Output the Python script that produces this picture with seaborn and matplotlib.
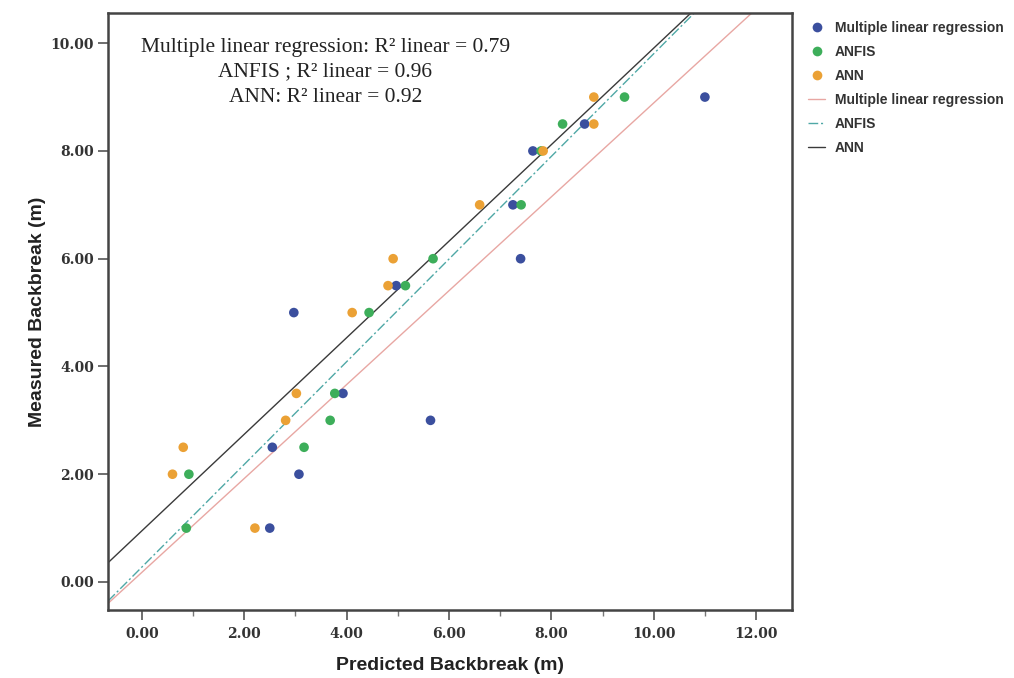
import numpy as np
import pandas as pd
import matplotlib
matplotlib.use("Agg")
import matplotlib.pyplot as plt
from matplotlib.lines import Line2D
from matplotlib.ticker import MultipleLocator, FormatStrFormatter
import seaborn as sns

# ---- data ----
measured = [9, 8.5, 8, 7, 6, 5.5, 5, 3.5, 3, 2.5, 2, 1]
mlr_pred = [11.0, 8.65, 7.64, 7.25, 7.40, 4.97, 2.97, 3.93, 5.64, 2.55, 3.07, 2.50]
anfis_pred = [9.43, 8.22, 7.80, 7.41, 5.69, 5.15, 4.44, 3.77, 3.68, 3.17, 0.92, 0.87]
ann_pred = [8.83, 8.83, 7.84, 6.60, 4.91, 4.81, 4.11, 3.02, 2.81, 0.81, 0.60, 2.21]
models = ["Multiple linear regression", "ANFIS", "ANN"]
r2_text = ["Multiple linear regression: R\u00b2 linear = 0.79",
           "ANFIS ; R\u00b2 linear = 0.96",
           "ANN: R\u00b2 linear = 0.92"]
x_ticks = [0, 2, 4, 6, 8, 10, 12]
y_ticks = [0, 2, 4, 6, 8, 10]

point_colors = {"Multiple linear regression": "#3B4F9E",
                "ANFIS": "#3DAE5A",
                "ANN": "#EBA135"}
line_styles = {"Multiple linear regression": dict(color="#E8A7A3", ls="-", lw=1.0),
               "ANFIS": dict(color="#4FA8A6", ls=(0, (7, 2, 1.5, 2)), lw=1.0),
               "ANN": dict(color="#3A3A3A", ls="-", lw=1.0)}

df = pd.DataFrame({
    "Predicted": mlr_pred + anfis_pred + ann_pred,
    "Measured": measured * 3,
    "Model": [models[0]] * len(mlr_pred) + [models[1]] * len(anfis_pred) + [models[2]] * len(ann_pred),
})

sns.set_style("white")
fig = plt.figure(figsize=(10.14, 6.78), dpi=100)
ax = fig.add_axes([0.1065, 0.1003, 0.6745, 0.8805])

xlim = (-0.66, 12.7)
ylim = (-0.52, 10.56)
ax.set_xlim(xlim)
ax.set_ylim(ylim)

# regression lines (fit through the library)
for m in models:
    sub = df[df["Model"] == m]
    st = line_styles[m]
    sns.regplot(data=sub, x="Predicted", y="Measured", ax=ax, scatter=False,
                ci=None, truncate=False,
                line_kws=dict(color=st["color"], linestyle=st["ls"], linewidth=st["lw"]))
    ax.set_xlim(xlim)
    ax.set_ylim(ylim)

sns.scatterplot(data=df, x="Predicted", y="Measured", hue="Model",
                palette=point_colors, hue_order=models, s=48, edgecolor="none",
                ax=ax, legend=False, zorder=3)
ax.set_xlim(xlim)
ax.set_ylim(ylim)

# ticks
ax.set_xticks(x_ticks)
ax.set_yticks(y_ticks)
ax.xaxis.set_minor_locator(MultipleLocator(1))
ax.xaxis.set_major_formatter(FormatStrFormatter("%.2f"))
ax.yaxis.set_major_formatter(FormatStrFormatter("%.2f"))
ax.tick_params(axis="both", which="major", direction="out", length=7, width=1.2,
               color="#555555", bottom=True, left=True)
ax.tick_params(axis="x", which="major", pad=5)
ax.tick_params(axis="y", which="major", pad=3)
ax.tick_params(axis="x", which="minor", direction="out", length=4, width=1.0,
               color="#777777", bottom=True)
for lab in ax.get_xticklabels() + ax.get_yticklabels():
    lab.set_fontfamily("DejaVu Serif")
    lab.set_fontweight("bold")
    lab.set_fontsize(10)
    lab.set_color("#333333")

for sp in ax.spines.values():
    sp.set_visible(True)
    sp.set_color("#444444")
    sp.set_linewidth(1.8)

ax.set_xlabel("Predicted Backbreak (m)", fontsize=14, fontweight="bold",
              fontfamily="Liberation Sans", color="#222222", labelpad=12)
ax.set_ylabel("Measured Backbreak (m)", fontsize=14, fontweight="bold",
              fontfamily="Liberation Sans", color="#222222", labelpad=3)

# R² annotation (one line per model, evenly spaced)
for i, txt in enumerate(r2_text):
    ax.text(0.318, 0.943 - i * 0.042, txt, transform=ax.transAxes, ha="center",
            va="center", fontsize=15.5, fontfamily="Liberation Serif", color="#222222")

# legend outside
handles = [Line2D([0], [0], marker="o", ls="none", markersize=7,
                  markerfacecolor=point_colors[m], markeredgecolor="none") for m in models]
handles += [Line2D([0], [0], color=line_styles[m]["color"], ls=line_styles[m]["ls"],
                   lw=1.0) for m in models]
labels = models + models
leg = fig.legend(handles, labels, loc="upper left", bbox_to_anchor=(0.785, 0.987),
                 frameon=False, handlelength=1.2, handletextpad=0.7, labelspacing=0.72,
                 prop=dict(family="Liberation Sans", weight="bold", size=10))
for t in leg.get_texts():
    t.set_color("#333333")

fig.savefig("out.png", dpi=100)
